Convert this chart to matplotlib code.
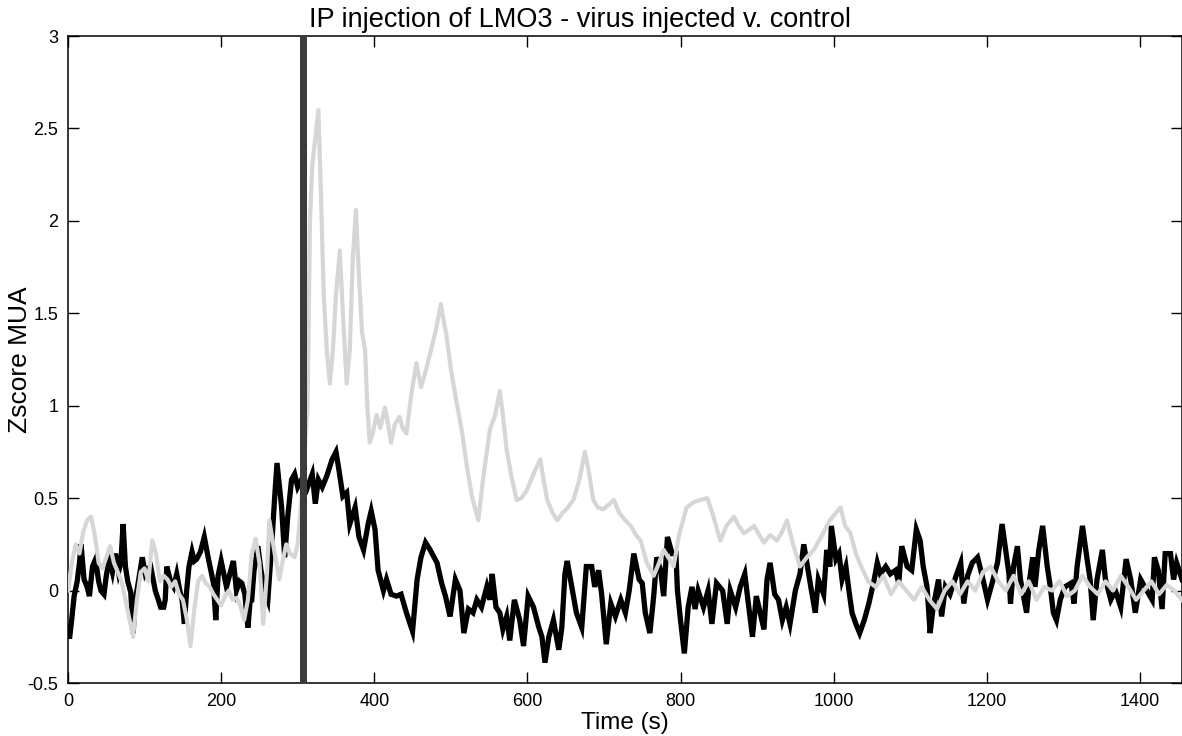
import numpy as np
import matplotlib
matplotlib.use("Agg")
import matplotlib.pyplot as plt

plt.rcParams['font.family'] = ['Liberation Sans', 'DejaVu Sans']

# virus injected (black trace)
t_virus = [0, 2, 5, 8, 12, 15, 17, 21, 25, 28, 32, 36, 40, 43, 47, 50, 54, 58, 62, 66,
           69, 72, 75, 78, 82, 85, 88, 92, 97, 101, 105, 108, 114, 118, 121, 125, 127, 129, 134, 138,
           142, 146, 149, 152, 155, 158, 162, 165, 168, 173, 178, 183, 187, 190, 193, 196, 200, 203, 207, 212,
           216, 220, 224, 227, 231, 235, 238, 240, 243, 248, 252, 257, 261, 266, 270, 273, 279, 283, 287, 292,
           296, 300, 305, 312,
           319, 323, 327, 332, 338, 345, 350, 354, 359, 364, 368, 375, 380, 386, 392, 396, 401, 405, 412, 416,
           422, 429, 435, 442, 450, 456, 461, 467, 473, 482, 488, 493, 499, 506, 512, 517, 523, 529, 534, 540,
           547, 551, 554, 559, 564, 568, 573, 577, 583, 590, 595, 601,
           608, 615, 619, 623, 628, 634, 641, 645, 649, 652, 658, 664, 671, 677, 684, 688, 693, 697, 703,
           709, 715, 722, 728, 733, 739, 746, 750, 754, 760, 765, 769, 774, 778, 783, 789, 794, 796, 800, 805,
           810, 815, 819, 823, 830, 836, 841, 847,
           855, 861, 865, 872, 878, 884, 888, 894, 899, 904, 909, 913, 917, 923, 928, 933, 938, 943, 950, 956,
           961, 965, 971, 976, 980, 987, 991, 995, 997,
           1003, 1007, 1011, 1016, 1020, 1024, 1029, 1034, 1040, 1046, 1053, 1057, 1061, 1068, 1074, 1081, 1085,
           1089, 1096, 1102, 1108, 1113, 1117, 1122, 1126, 1130, 1137, 1141, 1146, 1152,
           1160, 1166, 1170, 1175, 1181, 1188, 1194, 1201, 1207, 1214, 1220, 1224, 1229, 1231, 1235, 1240, 1244,
           1248, 1252, 1256, 1260, 1263, 1268, 1273, 1279, 1283, 1287, 1291, 1296, 1302,
           1310, 1314, 1318, 1325, 1331, 1335, 1339, 1344, 1351, 1355, 1362, 1368, 1375, 1382, 1388, 1394, 1401,
           1409, 1416, 1419, 1424, 1429, 1433, 1440, 1444, 1448, 1455]
z_virus = [-0.2, -0.26, -0.15, -0.03, 0.05, 0.15, 0.25, 0.06, 0.02, -0.03, 0.13, 0.17, 0.05, 0.0, -0.02, 0.08, 0.17, 0.1, 0.2, 0.1,
           0.15, 0.36, 0.13, 0.05, -0.01, -0.23, -0.05, 0.05, 0.18, 0.09, 0.12, 0.13, 0.0, -0.05, -0.09, -0.09, -0.05, 0.13, 0.05, 0.02,
           0.09, 0.0, -0.05, -0.18, 0.0, 0.13, 0.21, 0.16, 0.17, 0.21, 0.29, 0.18, 0.1, 0.04, -0.16, 0.08, 0.16, 0.1, 0.02, 0.1,
           0.16, 0.0, 0.05, 0.04, -0.02, -0.2, -0.05, -0.05, 0.11, 0.24, 0.11, 0.0, -0.05, 0.24, 0.51, 0.69, 0.45, 0.18, 0.4, 0.6,
           0.63, 0.56, 0.6, 0.55,
           0.63, 0.47, 0.6, 0.56, 0.62, 0.71, 0.75, 0.65, 0.51, 0.53, 0.36, 0.45, 0.29, 0.22, 0.36, 0.43, 0.33, 0.11, 0.0, 0.06,
           -0.02, -0.03, -0.02, -0.12, -0.22, 0.06, 0.18, 0.26, 0.22, 0.15, 0.04, -0.03, -0.14, 0.06, 0.0, -0.23, -0.1, -0.12, -0.05, -0.09,
           0.02, -0.05, 0.09, -0.09, -0.12, -0.21, -0.14, -0.27, -0.05, -0.16, -0.3, -0.03,
           -0.09, -0.2, -0.25, -0.39, -0.25, -0.16, -0.32, -0.2, 0.09, 0.16, 0.02, -0.12, -0.2, 0.13, 0.13, 0.02, 0.11, -0.02, -0.29,
           -0.07, -0.14, -0.05, -0.12, 0.0, 0.2, 0.06, 0.04, -0.12, -0.23, -0.03, 0.18, 0.11, -0.03, 0.29, 0.2, 0.2, 0.0, -0.16, -0.34,
           -0.09, 0.02, -0.1, 0.0, -0.09, 0.0, -0.18, 0.04,
           0.0, -0.18, 0.0, -0.09, 0.02, 0.09, -0.05, -0.25, -0.03, -0.12, -0.21, 0.06, 0.15, -0.02, -0.05, -0.16, -0.09, -0.18, 0.0, 0.09,
           0.25, 0.15, 0.0, -0.12, 0.06, -0.02, 0.22, 0.13, 0.35,
           0.17, 0.2, 0.06, 0.13, 0.0, -0.12, -0.18, -0.23, -0.16, -0.07, 0.06, 0.15, 0.09, 0.13, 0.09, 0.11, 0.04,
           0.24, 0.13, 0.11, 0.33, 0.27, 0.13, 0.02, -0.23, -0.09, 0.06, -0.14, 0.02, -0.02,
           0.08, 0.15, -0.07, 0.08, 0.15, 0.18, 0.08, -0.05, 0.04, 0.15, 0.36, 0.24, 0.09, -0.07, 0.13, 0.24, 0.06,
           -0.03, -0.12, 0.06, 0.18, 0.02, 0.22, 0.35, 0.13, 0.02, -0.12, -0.16, -0.05, 0.02,
           0.04, -0.07, 0.13, 0.35, 0.17, 0.06, -0.16, 0.06, 0.22, 0.06, -0.05, 0.0, -0.09, 0.17, 0.06, -0.12, 0.06,
           0.0, -0.05, 0.18, 0.11, -0.1, 0.2, 0.2, 0.06, 0.15, 0.06]

# control (light grey trace)
t_ctrl = [0, 5, 10, 15, 20, 25, 30, 35, 40, 45, 50, 55, 60, 65, 70, 75, 80, 85, 90, 95,
          100, 105, 110, 115, 120, 125, 130, 135, 140, 145, 150, 155, 160, 165, 170, 175, 180, 185, 190, 195,
          200, 205, 210, 215, 220, 225, 230, 235, 240, 245, 250, 255, 260, 263, 270, 276, 280, 285, 290, 296,
          300, 305, 313, 316, 319, 323, 327, 330, 334, 338, 342, 346, 350, 355, 359, 364, 368, 372, 376, 380,
          384, 388, 391, 394, 398, 403, 408, 414, 418, 422, 427, 433, 437, 442, 448, 455, 461, 468, 474, 480,
          487, 491, 494, 500, 507, 515, 521, 528, 536, 542, 551, 558, 564, 568, 573, 580, 586, 592, 599, 605,
          610, 617, 621, 626, 633, 639, 646, 653, 660, 668, 675, 680, 686, 692, 699, 705, 713, 720, 728, 735,
          742, 748, 756, 765, 772, 778, 784, 791, 798, 808, 818, 826, 835, 843, 852, 860, 870, 876, 883, 890,
          896, 903, 909, 917, 926, 933, 939, 947, 956, 965, 974, 985, 995, 1009, 1015, 1022, 1029, 1036, 1045, 1055,
          1065, 1075, 1085, 1095, 1105, 1115, 1125, 1135, 1145, 1155, 1165, 1175, 1185, 1195, 1205, 1215, 1225, 1235, 1245, 1255,
          1265, 1275, 1285, 1295, 1305, 1315, 1325, 1335, 1345, 1355, 1365, 1375, 1385, 1395, 1405, 1415, 1425, 1435, 1445, 1455]
z_ctrl = [0.0, 0.15, 0.25, 0.2, 0.32, 0.38, 0.4, 0.3, 0.15, 0.12, 0.18, 0.24, 0.15, 0.1, 0.05, -0.05, -0.15, -0.25, -0.05, 0.1,
          0.12, 0.05, 0.27, 0.2, 0.05, 0.08, 0.06, 0.02, 0.05, -0.02, -0.05, -0.15, -0.3, -0.1, 0.05, 0.08, 0.04, 0.02, -0.02, -0.05,
          -0.08, -0.03, 0.0, -0.05, -0.04, -0.08, -0.16, -0.05, 0.2, 0.28, 0.15, -0.18, 0.1, 0.38, 0.2, 0.06, 0.15, 0.25, 0.2, 0.18,
          0.25, 0.5, 1.0, 2.0, 2.3, 2.45, 2.6, 2.2, 1.6, 1.3, 1.12, 1.3, 1.6, 1.84, 1.5, 1.12, 1.3, 1.8, 2.06, 1.7,
          1.4, 1.3, 1.0, 0.8, 0.85, 0.95, 0.88, 0.99, 0.9, 0.8, 0.9, 0.94, 0.88, 0.85, 1.05, 1.23, 1.1, 1.2, 1.3, 1.4,
          1.55, 1.45, 1.39, 1.2, 1.03, 0.85, 0.67, 0.5, 0.38, 0.6, 0.87, 0.95, 1.08, 0.95, 0.76, 0.6, 0.49, 0.5, 0.54, 0.6,
          0.65, 0.71, 0.6, 0.49, 0.42, 0.38, 0.42, 0.45, 0.49, 0.6, 0.75, 0.65, 0.49, 0.45, 0.44, 0.46, 0.49, 0.42, 0.38, 0.35,
          0.3, 0.27, 0.15, 0.08, 0.15, 0.22, 0.18, 0.13, 0.3, 0.45, 0.48, 0.49, 0.5, 0.4, 0.27, 0.35, 0.4, 0.35, 0.31, 0.33,
          0.35, 0.3, 0.26, 0.3, 0.27, 0.32, 0.38, 0.25, 0.13, 0.18, 0.22, 0.3, 0.38, 0.45, 0.35, 0.31, 0.2, 0.13, 0.05, 0.02,
          0.08, -0.02, 0.05, 0.0, -0.05, 0.02, -0.05, -0.1, 0.0, 0.05, -0.02, 0.05, 0.0, 0.1, 0.13, 0.05, 0.0, 0.08, -0.02, 0.05,
          -0.05, 0.02, 0.0, 0.05, -0.03, 0.0, 0.08, 0.02, -0.02, 0.05, 0.0, 0.08, 0.02, -0.05, 0.0, 0.05, -0.02, 0.03, 0.0, -0.05]

injection = (302.5, 312)

fig = plt.figure(figsize=(11.82, 7.36), dpi=100)
ax = fig.add_axes([68 / 1182, 53 / 736, 1114 / 1182, 647 / 736])

ax.plot(t_virus, z_virus, color='black', lw=3.8, solid_joinstyle='miter', zorder=2)
ax.plot(t_ctrl, z_ctrl, color='#d6d6d6', lw=3.0, zorder=3)
ax.axvspan(injection[0], injection[1], color='#3c3c3c', lw=0, zorder=4)

ax.set_xlim(0, 1455)
ax.set_ylim(-0.5, 3)
ax.set_xticks([0, 200, 400, 600, 800, 1000, 1200, 1400])
ax.set_yticks([-0.5, 0, 0.5, 1, 1.5, 2, 2.5, 3])
ax.set_yticklabels(['-0.5', '0', '0.5', '1', '1.5', '2', '2.5', '3'])
ax.tick_params(direction='in', length=8, width=1, labelsize=13, pad=7,
               top=True, right=True)
for s in ax.spines.values():
    s.set_linewidth(1.1)

ax.set_xlabel('Time (s)', fontsize=17.5, labelpad=2)
ax.set_ylabel('Zscore MUA', fontsize=19)
ax.yaxis.set_label_coords(-0.032, 0.5)
fig.text(580 / 1182, 1 - 20 / 736, 'IP injection of LMO3 - virus injected v. control',
         fontsize=19.5, ha='center', va='center')

fig.savefig('out.png', dpi=100)
